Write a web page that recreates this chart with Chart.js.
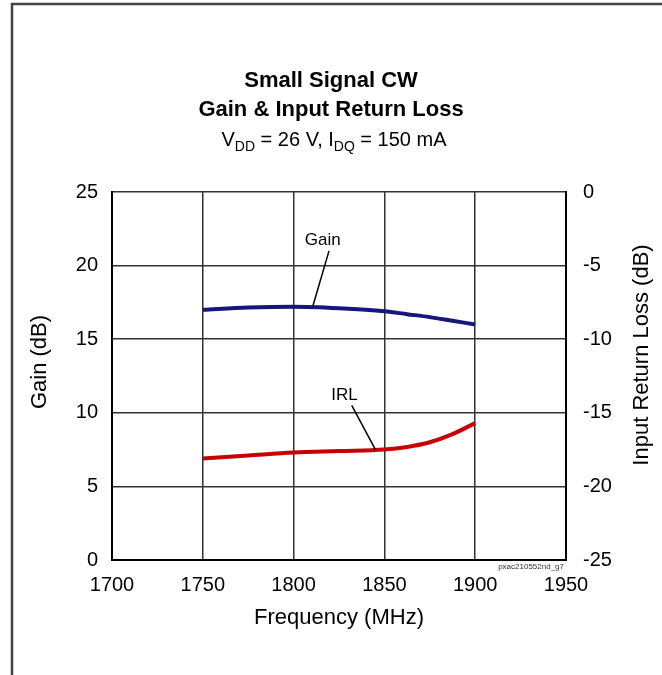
<!DOCTYPE html>
<html>
<head>
<meta charset="utf-8">
<script src="https://cdn.jsdelivr.net/npm/chart.js@4.4.1/dist/chart.umd.min.js"></script>
<style>
html, body { margin: 0; padding: 0; background: #fff; }
#wrap { width: 662px; height: 675px; position: relative; }
</style>
</head>
<body>
<div id="wrap"><canvas id="chart"></canvas></div>
<script>
const FONT = "'Liberation Sans', Arial, sans-serif";

// data
const freq = [1750, 1775, 1800, 1825, 1850, 1862.5, 1875, 1887.5, 1900];
const gain = [17.0, 17.15, 17.2, 17.1, 16.9, 16.7, 16.5, 16.25, 16.0];
const irl = [-18.1, -17.9, -17.7, -17.6, -17.5, -17.32, -17.0, -16.45, -15.7];

const titleLines = ['Small Signal CW', 'Gain & Input Return Loss'];
// subtitle pieces: [text, isSubscript]
const subtitle = [['V', 0], ['DD', 1], [' = 26 V, I', 0], ['DQ', 1], [' = 150 mA', 0]];

// callout labels, in data units
const notes = [
  { text: 'Gain', axis: 'y', at: [1816, 21.75], from: [1819.5, 21.0], to: [1810.5, 17.2] },
  { text: 'IRL', axis: 'y2', at: [1828, -13.8], from: [1832, -14.5], to: [1845, -17.48] }
];

const tickFont = { family: FONT, size: 20 };

const decor = {
  id: 'decor',
  afterDraw(chart) {
    const ctx = chart.ctx;
    const x = chart.scales.x;
    ctx.save();

    // outer frame
    ctx.strokeStyle = '#444';
    ctx.lineWidth = 2.5;
    ctx.strokeRect(12, 4, 720, 720);

    ctx.fillStyle = '#000';
    ctx.textBaseline = 'alphabetic';
    ctx.textAlign = 'center';
    ctx.font = 'bold 22px ' + FONT;
    ctx.fillText(titleLines[0], 331, 87);
    ctx.fillText(titleLines[1], 331, 116);

    // subtitle with subscripts
    const big = '20px ' + FONT, small = '14px ' + FONT;
    let w = 0;
    subtitle.forEach(s => { ctx.font = s[1] ? small : big; w += ctx.measureText(s[0]).width; });
    let cx = 334 - w / 2;
    ctx.textAlign = 'left';
    subtitle.forEach(s => {
      ctx.font = s[1] ? small : big;
      ctx.fillText(s[0], cx, s[1] ? 151 : 146);
      cx += ctx.measureText(s[0]).width;
    });

    // vertical axis titles
    ctx.font = '22px ' + FONT;
    ctx.textAlign = 'center';
    ctx.textBaseline = 'middle';
    ctx.save();
    ctx.translate(40, 362);
    ctx.rotate(-Math.PI / 2);
    ctx.fillText('Gain (dB)', 0, 0);
    ctx.restore();
    ctx.save();
    ctx.translate(642, 355);
    ctx.rotate(-Math.PI / 2);
    ctx.fillText('Input Return Loss (dB)', 0, 0);
    ctx.restore();

    // callouts
    ctx.font = '17px ' + FONT;
    ctx.strokeStyle = '#000';
    ctx.lineWidth = 1.5;
    notes.forEach(n => {
      const y = chart.scales[n.axis];
      ctx.fillText(n.text, x.getPixelForValue(n.at[0]), y.getPixelForValue(n.at[1]));
      ctx.beginPath();
      ctx.moveTo(x.getPixelForValue(n.from[0]), y.getPixelForValue(n.from[1]));
      ctx.lineTo(x.getPixelForValue(n.to[0]), y.getPixelForValue(n.to[1]));
      ctx.stroke();
    });

    // figure id
    ctx.font = '8px ' + FONT;
    ctx.textAlign = 'right';
    ctx.textBaseline = 'alphabetic';
    ctx.fillStyle = '#333';
    ctx.fillText('pxac210552nd_g7', chart.chartArea.right - 2, chart.chartArea.bottom + 9);
    ctx.restore();
  }
};

new Chart(document.getElementById('chart'), {
  type: 'line',
  data: {
    datasets: [{
      label: 'Gain',
      data: freq.map((f, i) => ({ x: f, y: gain[i] })),
      yAxisID: 'y',
      borderColor: '#16167c',
      borderWidth: 4,
      pointRadius: 0,
      cubicInterpolationMode: 'monotone'
    }, {
      label: 'IRL',
      data: freq.map((f, i) => ({ x: f, y: irl[i] })),
      yAxisID: 'y2',
      borderColor: '#c80000',
      borderWidth: 4,
      pointRadius: 0,
      cubicInterpolationMode: 'monotone'
    }]
  },
  options: {
    responsive: true,
    maintainAspectRatio: false,
    animation: false,
    layout: { padding: { top: 192, left: 0, right: 0, bottom: 0 } },
    plugins: { legend: { display: false }, tooltip: { enabled: false } },
    scales: {
      x: {
        type: 'linear', min: 1700, max: 1950,
        ticks: { stepSize: 50, padding: 13, color: '#000', font: tickFont, callback: v => String(v) },
        grid: { color: '#333', lineWidth: 1.5, drawTicks: false },
        border: { color: '#000', width: 2 },
        title: { display: true, text: 'Frequency (MHz)', color: '#000', font: { family: FONT, size: 22 }, padding: { top: 0, bottom: 44 } },
        afterFit: s => { s.height = 115; }
      },
      y: {
        position: 'left', min: 0, max: 25,
        ticks: { stepSize: 5, padding: 14, color: '#000', font: tickFont },
        grid: { color: '#333', lineWidth: 1.5, drawTicks: false },
        border: { color: '#000', width: 2 },
        afterFit: s => { s.width = 112; }
      },
      y2: {
        position: 'right', min: -25, max: 0,
        ticks: { stepSize: 5, padding: 17, color: '#000', font: tickFont },
        grid: { display: false, drawTicks: false },
        border: { color: '#000', width: 2 },
        afterFit: s => { s.width = 96; }
      }
    }
  },
  plugins: [decor]
});
</script>
</body>
</html>
